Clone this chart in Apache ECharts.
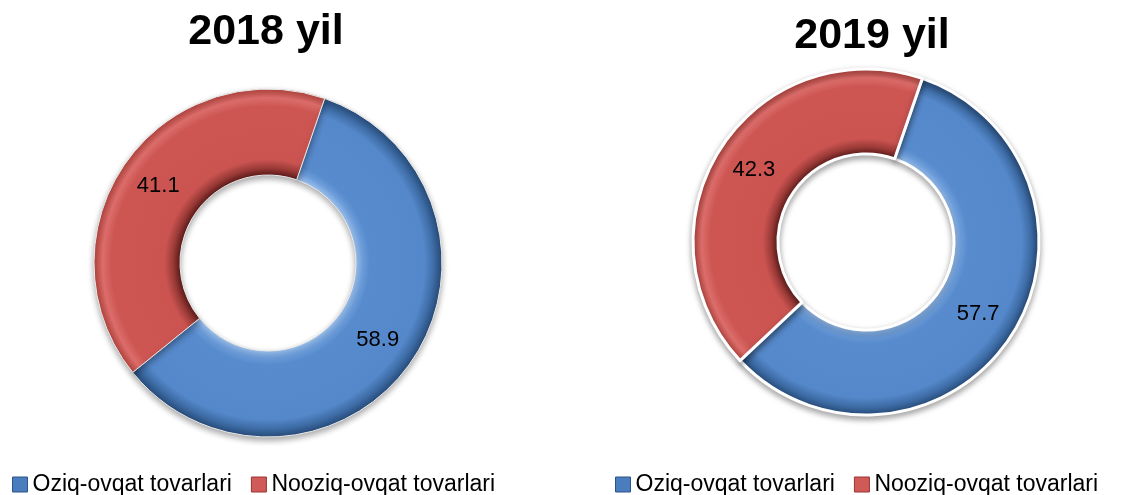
<!DOCTYPE html>
<html><head><meta charset="utf-8">
<script src="https://cdn.jsdelivr.net/npm/echarts@6/dist/echarts.min.js"></script>
<style>html,body{margin:0;padding:0;background:#fff}#c{width:1140px;height:495px}</style>
</head><body><div id="c"></div>
<script>
const categories = ['Oziq-ovqat tovarlari', 'Nooziq-ovqat tovarlari'];
const years = ['2018 yil', '2019 yil'];
const values2018 = [58.9, 41.1];
const values2019 = [57.7, 42.3];

const chart = echarts.init(document.getElementById('c'), null, {renderer: 'canvas'});

function grad(cx, cy, r, stops) {
  return {type: 'radial', x: cx, y: cy, r: r, global: true,
    colorStops: stops.map(s => ({offset: s[0], color: s[1]}))};
}
function blueGrad(cx, cy, r, ri) {
  const k = ri / r;
  return grad(cx, cy, r, [
    [0, '#8db7ea'], [k, '#9cc2ef'], [k + 0.04, '#6c9cd9'], [k + 0.08, '#578bcd'],
    [0.90, '#5588ca'], [0.95, '#3f6ea8'], [1, '#284d7c']
  ]);
}
function redGrad(cx, cy, r, ri) {
  const k = ri / r;
  return grad(cx, cy, r, [
    [0, '#5a1b1a'], [k, '#5e1c1b'], [k + 0.04, '#9a3a37'], [k + 0.09, '#cb5451'],
    [0.90, '#cd5653'], [0.95, '#dc6d6a'], [1, '#b4443f']
  ]);
}

function pieSeries(vals, cx, cy, r, ri, gap) {
  return {
    type: 'pie',
    center: [cx, cy],
    radius: [ri, r],
    startAngle: 71,
    clockwise: true,
    avoidLabelOverlap: false,
    silent: true,
    label: {show: true, position: 'inside', formatter: '{c}', color: '#000',
      fontSize: 22, fontFamily: 'Liberation Sans, Arial, sans-serif'},
    labelLine: {show: false},
    itemStyle: {borderColor: gap > 1 ? '#ffffff' : '#e8e8e8', borderWidth: gap,
      shadowBlur: 6, shadowColor: 'rgba(0,0,0,0.35)', shadowOffsetY: 3},
    data: vals.map((v, i) => ({
      name: categories[i], value: v,
      itemStyle: {color: i === 0 ? blueGrad(cx, cy, r, ri) : redGrad(cx, cy, r, ri)}
    }))
  };
}

const legendData = [
  {name: categories[0], itemStyle: {color: '#4a7dbd', borderColor: '#2c5488', borderWidth: 1}},
  {name: categories[1], itemStyle: {color: '#d05a57', borderColor: '#9a3532', borderWidth: 1}}
];
const legendCommon = {
  orient: 'horizontal', top: 473, icon: 'rect', itemWidth: 15, itemHeight: 15,
  itemGap: 19, selectedMode: false, padding: 0,
  textStyle: {fontSize: 23, color: '#000', fontFamily: 'Liberation Sans, Arial, sans-serif'},
  data: legendData
};

chart.setOption({
  animation: false,
  title: [
    {text: years[0], left: 266, top: 11, textAlign: 'center', padding: 0,
      textStyle: {fontSize: 43, fontWeight: 'bold', color: '#000', fontFamily: 'Liberation Sans, Arial, sans-serif'}},
    {text: years[1], left: 872, top: 15, textAlign: 'center', padding: 0,
      textStyle: {fontSize: 43, fontWeight: 'bold', color: '#000', fontFamily: 'Liberation Sans, Arial, sans-serif'}}
  ],
  legend: [
    Object.assign({left: 12}, legendCommon),
    Object.assign({left: 615}, legendCommon)
  ],
  series: [
    pieSeries(values2018, 268, 263, 174, 88, 1),
    pieSeries(values2019, 866, 242, 173, 88, 3)
  ]
});
</script></body></html>
